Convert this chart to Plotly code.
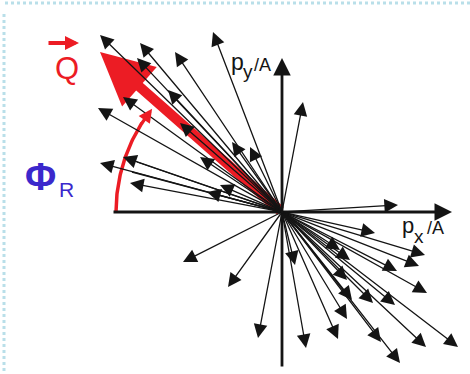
import numpy as np
import plotly.graph_objects as go

W, H = 470, 374
OX, OY = 282, 212        # origin position in pixels
S = 100.0                # pixels per unit of p/A

# Fragment momenta per nucleon (p_x/A, p_y/A); heads=0 -> arrowhead hidden
p_x = [-1.82, -1.42, -1.07, -0.69, -1.45, -1.14, -1.59, -1.84, -1.02, -0.50,
       -0.32, -0.82, -1.59, -1.82, -1.45, -1.50, -1.52, -0.62, -0.75, 0.21,
       1.16,
       0.93, 1.43, 1.37, 1.15, 0.58, 0.68, 0.13, 0.65, 1.45, 0.91,
       1.13, 0.70, 0.65, 0.56, 0.99, 1.44, 1.76, 1.18, 0.24, -0.99,
       -0.54, -0.24]
p_y = [1.77, 1.69, 1.60, 1.80, 1.54, 1.22, 1.15, 1.04, 0.89, 0.70,
       0.65, 0.55, 0.55, 0.49, 0.50, 0.40, 0.29, 0.27, 0.20, 1.10,
       0.07,
       -0.21, -0.43, -0.54, -0.59, -0.38, -0.48, -0.53, -0.68, -0.81, -0.91,
       -0.93, -0.88, -1.07, -1.27, -1.30, -1.35, -1.35, -1.51, -1.36, -0.50,
       -0.75, -1.26]
heads = [1] * 14 + [0, 0] + [1] * 27

# Reaction-plane vector Q and its azimuth Phi_R
Q_vec = (-1.82, 1.60)
arc_radius = 1.66
phi_start_deg, phi_end_deg = 180.0, 141.5

# Axis extents (p/A units)
x_axis = (-1.70, 1.70)
y_axis = (-1.56, 1.54)

RED = "#ec1c24"
BLUE = "#3b28cc"
INK = "#141414"
FONT = "Liberation Sans, Arial, sans-serif"

fig = go.Figure()

# Azimuthal arc from the +x reference direction to Q
th = np.radians(np.linspace(phi_start_deg, phi_end_deg + 6.0, 60))
fig.add_trace(go.Scatter(x=arc_radius * np.cos(th), y=arc_radius * np.sin(th),
                         mode="lines", line=dict(color=RED, width=3.5),
                         hoverinfo="skip", showlegend=False))

ann = []

def arrow(x0, y0, x1, y1, color, width, head, size):
    ann.append(dict(x=x1, y=y1, ax=x0, ay=y0, xref="x", yref="y",
                    axref="x", ayref="y", text="", showarrow=True,
                    arrowcolor=color, arrowwidth=width, arrowhead=head,
                    arrowsize=size, standoff=0, startstandoff=0))

# Q vector (thick red)
arrow(0, 0, Q_vec[0], Q_vec[1], RED, 10, 2, 1.05)

# Coordinate axes
arrow(x_axis[0], 0, x_axis[1], 0, INK, 2.8, 2, 1.25)
arrow(0, y_axis[0], 0, y_axis[1], INK, 2.8, 2, 1.25)

# Particle momenta
for vx, vy, h in zip(p_x, p_y, heads):
    arrow(0, 0, vx, vy, INK, 1.3, 2 if h else 0, 2.1)

# Arrowhead closing the Phi_R arc
t0, t1 = np.radians(phi_end_deg + 7.0), np.radians(phi_end_deg)
arrow(arc_radius * np.cos(t0), arc_radius * np.sin(t0),
      arc_radius * np.cos(t1), arc_radius * np.sin(t1), RED, 3.2, 2, 0.85)


def label(text, cx, baseline, size, color, bold=False):
    t = f"<b>{text}</b>" if bold else text
    ann.append(dict(x=cx / W, y=1 - (baseline - 0.35 * size) / H,
                    xref="paper", yref="paper", text=t, showarrow=False,
                    xanchor="center", yanchor="middle",
                    font=dict(family=FONT, size=size, color=color)))


# Vector label Q with its small arrow
label("Q", 67, 79, 31, RED)
ann.append(dict(x=79 / W, y=1 - 43 / H, xref="paper", yref="paper",
                ax=-32, ay=0, text="", showarrow=True, arrowcolor=RED,
                arrowwidth=4, arrowhead=2, arrowsize=0.7, standoff=0))

# Phi_R
label("Φ", 40, 190, 38, BLUE, bold=True)
label("R", 66, 197, 21, BLUE)

# Axis titles p_y/A and p_x/A
label("p", 237, 70, 23, INK)
label("y", 248, 78, 19, INK)
label("/A", 262, 71, 18, INK)

label("p", 408, 233, 22, INK)
label("x", 418.5, 243, 19, INK)
label("/A", 435, 234, 18, INK)

# Dotted frame along the top and left edges
shapes = [
    dict(type="line", xref="paper", yref="paper", x0=5 / W, x1=1, y0=1 - 3 / H,
         y1=1 - 3 / H, line=dict(color="#b9dfe9", width=3, dash="dot")),
    dict(type="line", xref="paper", yref="paper", x0=4 / W, x1=4 / W,
         y0=1 - 14 / H, y1=0, line=dict(color="#b9dfe9", width=3, dash="dot")),
]

fig.update_layout(
    width=W, height=H, autosize=False,
    margin=dict(l=0, r=0, t=0, b=0, pad=0),
    paper_bgcolor="white", plot_bgcolor="white",
    xaxis=dict(range=[-OX / S, (W - OX) / S], visible=False, fixedrange=True),
    yaxis=dict(range=[-(H - OY) / S, OY / S], visible=False, fixedrange=True),
    annotations=ann, shapes=shapes, showlegend=False,
)

fig.write_html("out.html")
